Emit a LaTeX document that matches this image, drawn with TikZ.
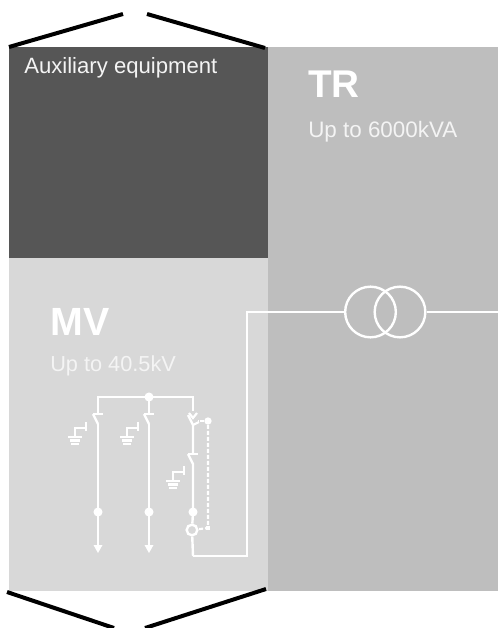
\documentclass[tikz,border=0pt]{standalone}
\usepackage{fontspec}
\setmainfont{Liberation Sans}
\definecolor{darkpanel}{HTML}{565656}
\definecolor{midpanel}{HTML}{BEBEBE}
\definecolor{lightpanel}{HTML}{D8D8D8}
\definecolor{softwhite}{HTML}{F4F4F4}
\tikzset{
  wire/.style={draw=white,line width=1.8pt},
  thinwire/.style={draw=white,line width=1.6pt},
  bracket/.style={draw=black,line width=3pt},
  jdot/.style={fill=white,circle,minimum size=6.8pt,inner sep=0pt},
  lbl/.style={anchor=base west,inner sep=0pt},
  ground/.pic={
    \draw[thinwire] (0,1) -- (0,-8) -- (10,-8);
    \draw[thinwire] (11,-14) -- (11,-5);
    \draw[wire] (-7,1) -- (7,1);
    \draw[thinwire] (-5,4.5) -- (5,4.5);
    \draw[thinwire] (-4,8) -- (4,8);
  },
  arrowtip/.pic={\fill[white] (-4.5,-8) -- (4.5,-8) -- (0,0) -- cycle;}
}
\begin{document}
\begin{tikzpicture}[x=0.75pt,y=-0.75pt,every node/.style={font=\normalsize}]
\useasboundingbox (0,0) rectangle (498,628);
\fill[midpanel] (268,47) rectangle (498,591);
\fill[darkpanel] (9,47) rectangle (268,258);
\fill[lightpanel] (9,258) rectangle (268,591);
\draw[bracket] (9,47) -- (123,14);
\draw[bracket] (147,14) -- (265,48);
\draw[bracket] (7,592) -- (114,628);
\draw[bracket] (145,628) -- (266,589);
\node[lbl,text=softwhite,font=\fontsize{16.6pt}{18pt}\selectfont] (aux) at (24,73) {Auxiliary equipment};
\node[lbl,text=white,font=\bfseries\fontsize{29pt}{32pt}\selectfont] (tr) at (308,97) {TR};
\node[lbl,text=softwhite,font=\fontsize{16.8pt}{18pt}\selectfont] (trv) at (308,137) {Up to 6000kVA};
\node[lbl,text=white,font=\bfseries\fontsize{29.5pt}{32pt}\selectfont] (mv) at (50,335) {MV};
\node[lbl,text=softwhite,font=\fontsize{16.3pt}{18pt}\selectfont] (mvv) at (50,371) {Up to 40.5kV};
% transformer
\node[circle,draw=white,line width=1.8pt,minimum size=38pt,inner sep=0pt] (c1) at (370.5,312) {};
\node[circle,draw=white,line width=1.8pt,minimum size=38pt,inner sep=0pt] (c2) at (400,312) {};
\coordinate (out) at (498,312);
\coordinate (corner1) at (247,312);
\coordinate (corner2) at (247,556);
\coordinate (corner3) at (193,556);
\draw[wire] (c1.west) -- (corner1) -- (corner2) -- (corner3);
\draw[wire] (c2.east) -- (out);
% bus
\coordinate (b1) at (98,397);
\node[jdot] (b2) at (149,397) {};
\coordinate (b3) at (193,397);
\draw[wire] (98,414) -- (b1) -- (b3) -- (193,411);
% feeder 1
\draw[wire] (98,424) -- (98,546);
\draw[wire] (93,414) -- (98,424);
\draw[thinwire] (93,414) -- (103,414);
\node[jdot] (d1) at (98,512) {};
\pic at (98,553) {arrowtip};
\pic at (75,436) {ground};
% feeder 2
\draw[wire] (149,397) -- (149,414);
\draw[wire] (149,424) -- (149,546);
\draw[wire] (144,414) -- (149,424);
\draw[thinwire] (144,414) -- (154,414);
\node[jdot] (d2) at (149,512) {};
\pic at (149,553) {arrowtip};
\pic at (127,436) {ground};
% feeder 3
\draw[wire] (188,415) -- (193,425) -- (193,453);
\draw[thinwire] (189,413) -- (193,418) -- (197,413);
\draw[thinwire] (193,425) -- (199,422);
\draw[wire] (188,454) -- (193,464) -- (193,512);
\draw[thinwire] (188,454) -- (198,454);
\node[jdot] (d3) at (193,512) {};
\node[circle,draw=white,line width=1.8pt,minimum size=8pt,inner sep=0pt] (ct) at (192,530) {};
\draw[wire] (193,512) -- (ct);
\draw[wire] (ct) -- (corner3);
\pic at (173,480) {ground};
\node[jdot,minimum size=5.5pt] (d4) at (208,421) {};
\coordinate (d5) at (208,528);
\fill[white] (206,526) rectangle (210,530);
\draw[thinwire,dash pattern=on 3pt off 1.5pt] (d4) -- (198,421);
\draw[thinwire,dash pattern=on 3pt off 1.5pt] (d4) -- (d5) -- (ct);
\end{tikzpicture}
\end{document}
